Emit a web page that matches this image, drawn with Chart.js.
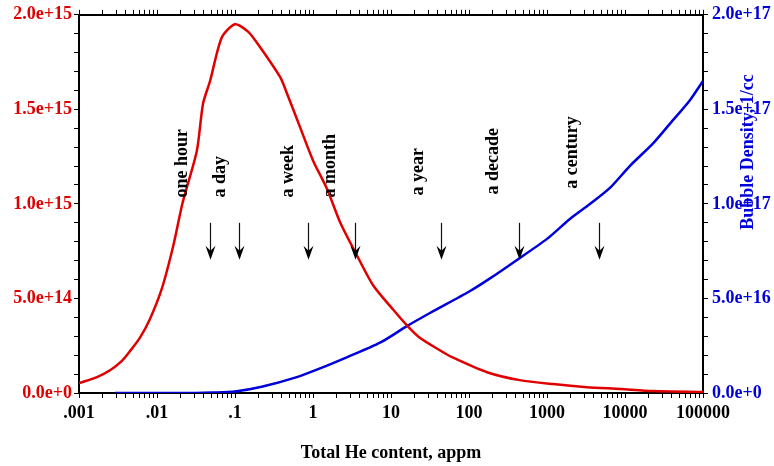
<!DOCTYPE html>
<html>
<head>
<meta charset="utf-8">
<script src="https://cdn.jsdelivr.net/npm/chart.js@4.4.0/dist/chart.umd.min.js"></script>
<style>
  html, body { margin: 0; padding: 0; background: #fff; }
  canvas { display: block; }
</style>
</head>
<body>
<canvas id="heChart" width="774" height="466"></canvas>
<script>
// Red curve (left axis): density vs total He content
const redX = [0.001, 0.0017, 0.0025, 0.00355, 0.00447, 0.006, 0.0081, 0.0115, 0.0162, 0.0214,
              0.0324, 0.0389, 0.0479, 0.0676, 0.1, 0.148, 0.209, 0.38, 0.468, 0.676,
              1, 1.51, 2.24, 3.63, 5.89, 10.7, 16.2, 23.4, 42.7, 61.7,
              170, 447, 1200, 3240, 8710, 22900, 100000];
const redY = [0.052e15, 0.084e15, 0.12e15, 0.17e15, 0.22e15, 0.29e15, 0.39e15, 0.55e15, 0.78e15, 1.01e15,
              1.28e15, 1.53e15, 1.65e15, 1.88e15, 1.95e15, 1.91e15, 1.83e15, 1.67e15, 1.58e15, 1.41e15,
              1.23e15, 1.08e15, 0.90e15, 0.73e15, 0.57e15, 0.44e15, 0.355e15, 0.292e15, 0.225e15, 0.188e15,
              0.11e15, 0.068e15, 0.047e15, 0.031e15, 0.021e15, 0.01e15, 0.005e15];

// Blue curve (right axis): bubble density, 1/cc
const blueX = [0.0029, 0.01, 0.0316, 0.051, 0.1, 0.22, 0.62, 1.23, 2.75, 7.24,
               16.2, 31.6, 102, 186, 417, 1000, 1950, 3550, 6460, 11500,
               22900, 38000, 67600, 100000];
const blueY = [0, 0, 0, 0.02e16, 0.08e16, 0.33e16, 0.84e16, 1.3e16, 1.9e16, 2.66e16,
               3.55e16, 4.23e16, 5.38e16, 6.06e16, 7.05e16, 8.15e16, 9.19e16, 9.99e16, 10.86e16, 12.0e16,
               13.2e16, 14.26e16, 15.47e16, 16.5e16];

// time markers: where each arrow points (appm) and where its caption sits
const eventLabels = ['one hour', 'a day', 'a week', 'a month', 'a year', 'a decade', 'a century'];
const arrowAt = [0.048, 0.112, 0.87, 3.5, 44, 437, 4650];
const captionAt = [0.021, 0.065, 0.48, 1.66, 22.4, 204, 2090];

const xTickLabels = ['.001', '.01', '.1', '1', '10', '100', '1000', '10000', '100000'];
const leftTickLabels = ['0.0e+0', '5.0e+14', '1.0e+15', '1.5e+15', '2.0e+15'];
const rightTickLabels = ['0.0e+0', '5.0e+16', '1.0e+17', '1.5e+17', '2.0e+17'];

const RED = '#e10000';
const BLUE = '#0000dc';
const SERIF = '"Liberation Serif", "Times New Roman", serif';

// log ticks: 1..9 in every decade, labels only on the decades
const xTicks = [];
for (let d = 0; d < xTickLabels.length; d++) {
  for (let m = 1; m <= 9; m++) {
    if (d === xTickLabels.length - 1 && m > 1) break;
    xTicks.push({ value: m * Math.pow(10, d - 3), label: m === 1 ? xTickLabels[d] : '' });
  }
}
function linearTicks(max, labels) {
  const out = [];
  for (let i = 0; i <= 20; i++) {
    out.push({ value: max * i / 20, label: i % 5 === 0 ? labels[i / 5] : '' });
  }
  return out;
}
const leftTicks = linearTicks(2e15, leftTickLabels);
const rightTicks = linearTicks(2e17, rightTickLabels);

function setTicks(list) {
  return function (scale) {
    scale.ticks = list.map(t => ({ value: t.value }));
  };
}
function tickText(list) {
  return function (value, index) {
    return list[index] ? list[index].label : '';
  };
}

const tickFont = { family: SERIF, size: 18, weight: 'bold' };

const markersPlugin = {
  id: 'markers',
  afterDatasetsDraw(chart) {
    const ctx = chart.ctx;
    const x = chart.scales.x;
    const y = chart.scales.y;
    ctx.save();
    // arrows
    ctx.strokeStyle = '#111';
    ctx.fillStyle = '#000';
    ctx.lineWidth = 1.2;
    const top = y.getPixelForValue(0.90e15);
    const tip = y.getPixelForValue(0.705e15);
    arrowAt.forEach(v => {
      const px = Math.round(x.getPixelForValue(v)) + 0.5;
      ctx.beginPath();
      ctx.moveTo(px, top);
      ctx.lineTo(px, tip - 6);
      ctx.stroke();
      ctx.beginPath();
      ctx.moveTo(px - 5, tip - 14);
      ctx.lineTo(px, tip - 9);
      ctx.lineTo(px + 5, tip - 14);
      ctx.lineTo(px, tip);
      ctx.closePath();
      ctx.fill();
    });
    // captions, reading upward
    ctx.font = 'bold 18px ' + SERIF;
    ctx.textAlign = 'left';
    ctx.textBaseline = 'middle';
    const base = [1.034e15, 1.034e15, 1.034e15, 1.034e15, 1.045e15, 1.05e15, 1.08e15];
    eventLabels.forEach((txt, i) => {
      ctx.save();
      ctx.translate(x.getPixelForValue(captionAt[i]), y.getPixelForValue(base[i]));
      ctx.rotate(-Math.PI / 2);
      ctx.fillText(txt, 0, 0);
      ctx.restore();
    });
    // right axis title
    ctx.fillStyle = BLUE;
    ctx.textAlign = 'center';
    ctx.save();
    ctx.translate(748, 152);
    ctx.rotate(-Math.PI / 2);
    ctx.fillText('Bubble Density, 1/cc', 0, 0);
    ctx.restore();
    ctx.restore();
  }
};

const gridOpts = {
  drawOnChartArea: false,
  drawTicks: true,
  tickLength: 5,
  tickColor: '#000',
  tickWidth: 1
};
const borderOpts = { display: true, color: '#000', width: 2 };

new Chart(document.getElementById('heChart').getContext('2d'), {
  type: 'line',
  data: {
    datasets: [{
      data: redX.map((v, i) => ({ x: v, y: redY[i] })),
      borderColor: RED,
      borderWidth: 2.5,
      pointRadius: 0,
      fill: false,
      tension: 0.25,
      xAxisID: 'x',
      yAxisID: 'y'
    }, {
      data: blueX.map((v, i) => ({ x: v, y: blueY[i] })),
      borderColor: BLUE,
      borderWidth: 2.5,
      pointRadius: 0,
      fill: false,
      tension: 0.25,
      xAxisID: 'x',
      yAxisID: 'y2'
    }]
  },
  options: {
    responsive: false,
    animation: false,
    devicePixelRatio: 1,
    layout: { padding: 0 },
    plugins: { legend: { display: false }, tooltip: { enabled: false } },
    scales: {
      x: {
        type: 'logarithmic',
        position: 'bottom',
        min: 0.001,
        max: 100000,
        afterBuildTicks: setTicks(xTicks),
        afterFit(scale) { scale.height = 73; },
        ticks: {
          autoSkip: false,
          maxRotation: 0,
          padding: 5,
          color: '#000',
          font: tickFont,
          callback: tickText(xTicks)
        },
        grid: gridOpts,
        border: borderOpts,
        title: {
          display: true,
          text: 'Total He content, appm',
          color: '#000',
          font: { family: SERIF, size: 18, weight: 'bold' },
          padding: { top: 0, bottom: 2 }
        }
      },
      xTop: {
        type: 'logarithmic',
        position: 'top',
        min: 0.001,
        max: 100000,
        afterBuildTicks: setTicks(xTicks),
        afterFit(scale) { scale.height = 10; },
        ticks: { display: false, autoSkip: false },
        grid: gridOpts,
        border: borderOpts
      },
      y: {
        type: 'linear',
        position: 'left',
        min: 0,
        max: 2e15,
        afterBuildTicks: setTicks(leftTicks),
        afterFit(scale) { scale.width = 79; },
        ticks: {
          autoSkip: false,
          padding: 2,
          color: RED,
          font: tickFont,
          callback: tickText(leftTicks)
        },
        grid: gridOpts,
        border: borderOpts
      },
      y2: {
        type: 'linear',
        position: 'right',
        min: 0,
        max: 2e17,
        afterBuildTicks: setTicks(rightTicks),
        afterFit(scale) { scale.width = 71; },
        ticks: {
          autoSkip: false,
          padding: 4,
          color: BLUE,
          font: tickFont,
          callback: tickText(rightTicks)
        },
        grid: gridOpts,
        border: borderOpts
      }
    }
  },
  plugins: [markersPlugin]
});
</script>
</body>
</html>
